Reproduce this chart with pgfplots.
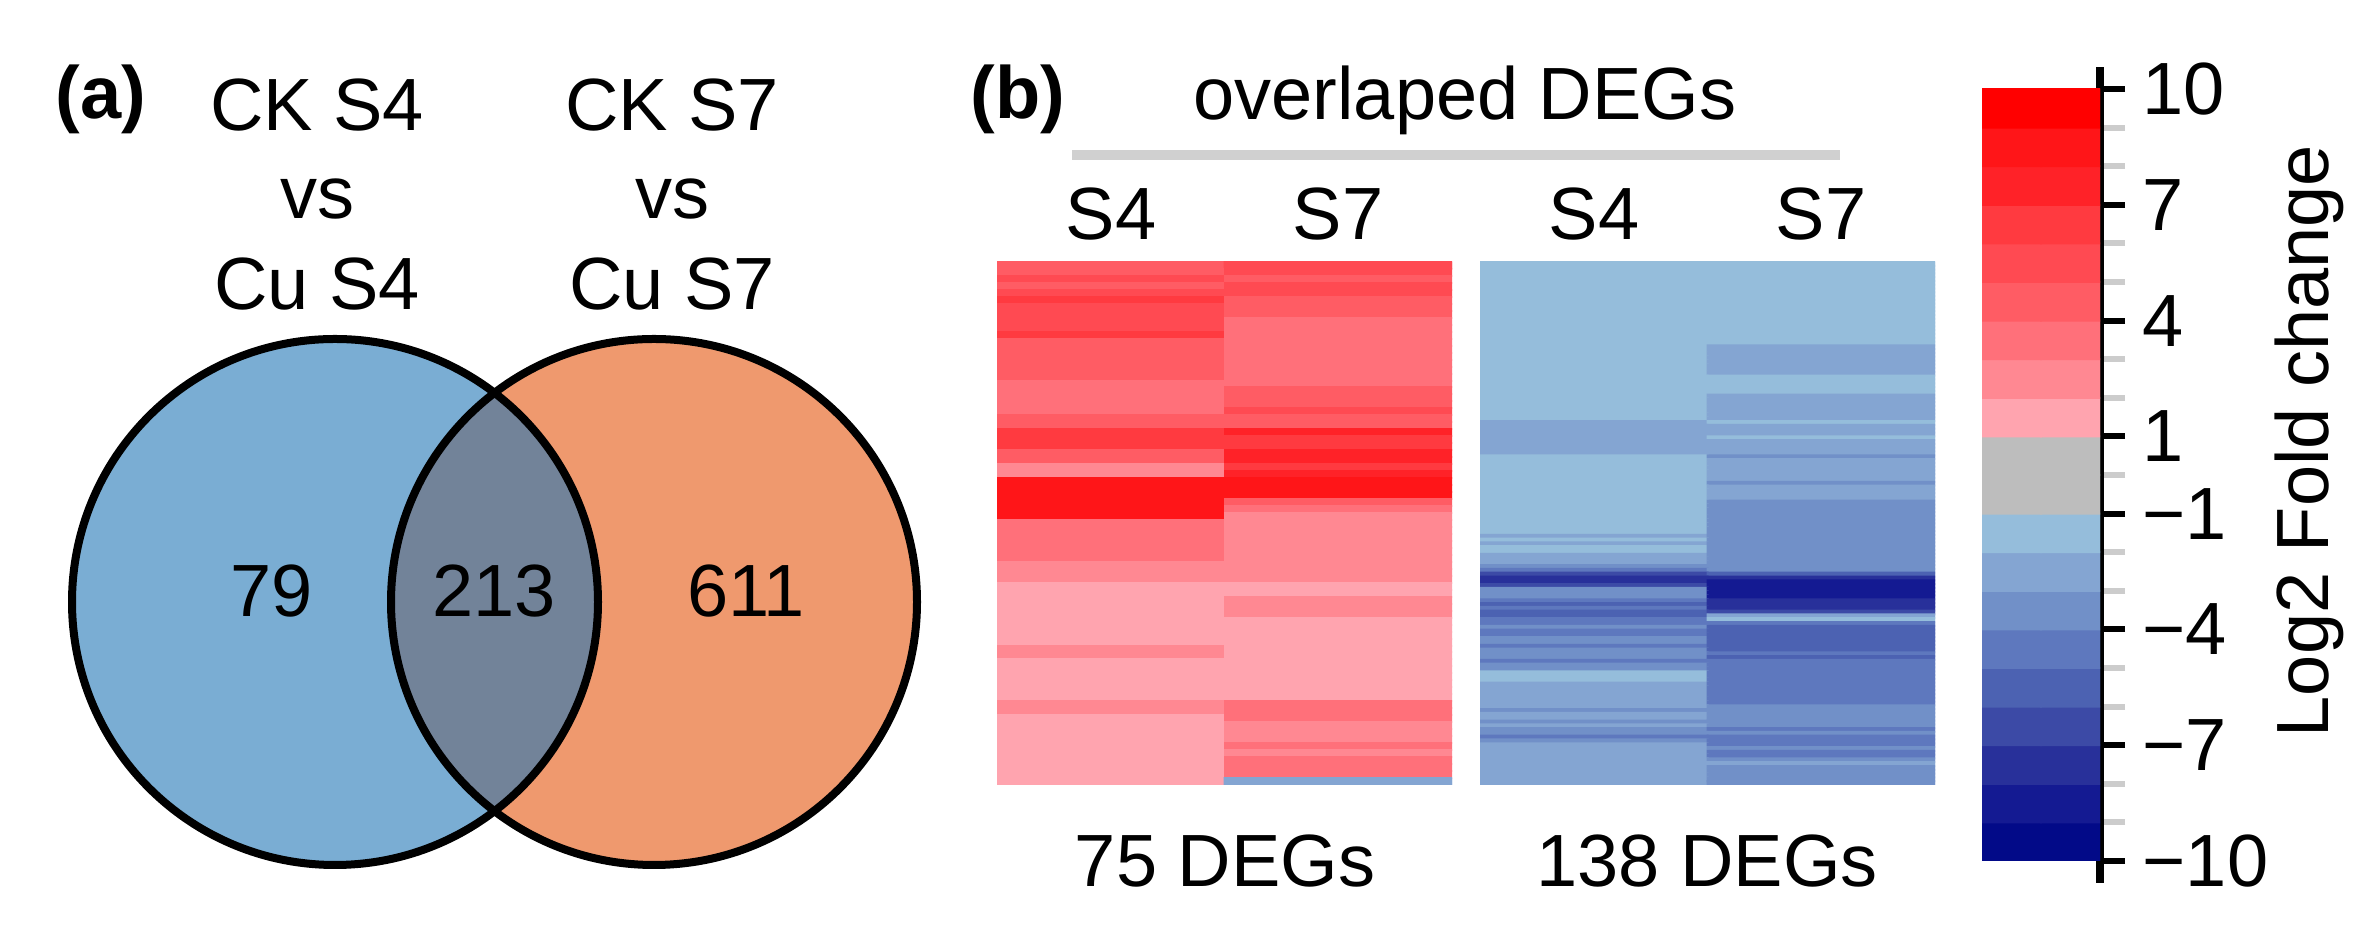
\documentclass[border=0pt]{standalone}
\usepackage{fontspec}
\setmainfont{Liberation Sans}
\usepackage{pgfplots}
\usepackage{pgfplotstable}
\pgfplotsset{compat=1.18}

\newcommand{\fs}{\fontsize{14.8}{17.8}\selectfont}

\definecolor{vennblue}{RGB}{122,173,211}
\definecolor{vennorange}{RGB}{239,153,110}
\definecolor{vennboth}{RGB}{114,131,153}
\definecolor{rulegray}{RGB}{208,208,208}

% 20 bands of 1 unit from -10 to 10, grey for -1..1
\pgfplotsset{
  colormap={lfc}{
    rgb255=(2,10,136) rgb255=(20,26,146) rgb255=(40,48,154) rgb255=(60,74,166)
    rgb255=(76,98,178) rgb255=(94,120,190) rgb255=(113,144,200) rgb255=(132,165,210)
    rgb255=(149,189,219) rgb255=(189,189,189) rgb255=(189,189,189) rgb255=(255,164,175)
    rgb255=(255,136,146) rgb255=(255,112,122) rgb255=(255,92,100) rgb255=(255,74,82)
    rgb255=(255,58,64) rgb255=(255,34,40) rgb255=(255,21,24) rgb255=(255,0,0)
  },
}

% log2 fold change; x: 0 = S4, 1 = S7; y: gene
\pgfplotstableread[row sep=\\,col sep=&]{
x&y&fc\\
0&0&4.5\\ 1&0&5.5\\
0&1&4.5\\ 1&1&5.5\\
0&2&5.5\\ 1&2&4.5\\
0&3&4.5\\ 1&3&5.5\\
0&4&5.5\\ 1&4&5.5\\
0&5&6.5\\ 1&5&4.5\\
0&6&5.5\\ 1&6&4.5\\
0&7&5.5\\ 1&7&4.5\\
0&8&5.5\\ 1&8&3.5\\
0&9&5.5\\ 1&9&3.5\\
0&10&6.5\\ 1&10&3.5\\
0&11&4.5\\ 1&11&3.5\\
0&12&4.5\\ 1&12&3.5\\
0&13&4.5\\ 1&13&3.5\\
0&14&4.5\\ 1&14&3.5\\
0&15&4.5\\ 1&15&3.5\\
0&16&4.5\\ 1&16&3.5\\
0&17&3.5\\ 1&17&3.5\\
0&18&3.5\\ 1&18&4.5\\
0&19&3.5\\ 1&19&4.5\\
0&20&3.5\\ 1&20&4.5\\
0&21&3.5\\ 1&21&5.5\\
0&22&4.5\\ 1&22&4.5\\
0&23&4.5\\ 1&23&4.5\\
0&24&6.5\\ 1&24&7.5\\
0&25&6.5\\ 1&25&6.5\\
0&26&6.5\\ 1&26&6.5\\
0&27&4.5\\ 1&27&7.5\\
0&28&4.5\\ 1&28&7.5\\
0&29&2.5\\ 1&29&6.5\\
0&30&2.5\\ 1&30&7.5\\
0&31&8.5\\ 1&31&8.5\\
0&32&8.5\\ 1&32&8.5\\
0&33&8.5\\ 1&33&8.5\\
0&34&8.5\\ 1&34&4.5\\
0&35&8.5\\ 1&35&3.5\\
0&36&8.5\\ 1&36&2.5\\
0&37&3.5\\ 1&37&2.5\\
0&38&3.5\\ 1&38&2.5\\
0&39&3.5\\ 1&39&2.5\\
0&40&3.5\\ 1&40&2.5\\
0&41&3.5\\ 1&41&2.5\\
0&42&3.5\\ 1&42&2.5\\
0&43&2.5\\ 1&43&2.5\\
0&44&2.5\\ 1&44&2.5\\
0&45&2.5\\ 1&45&2.5\\
0&46&1.5\\ 1&46&1.5\\
0&47&1.5\\ 1&47&1.5\\
0&48&1.5\\ 1&48&2.5\\
0&49&1.5\\ 1&49&2.5\\
0&50&1.5\\ 1&50&2.5\\
0&51&1.5\\ 1&51&1.5\\
0&52&1.5\\ 1&52&1.5\\
0&53&1.5\\ 1&53&1.5\\
0&54&1.5\\ 1&54&1.5\\
0&55&2.5\\ 1&55&1.5\\
0&56&2.5\\ 1&56&1.5\\
0&57&1.5\\ 1&57&1.5\\
0&58&1.5\\ 1&58&1.5\\
0&59&1.5\\ 1&59&1.5\\
0&60&1.5\\ 1&60&1.5\\
0&61&1.5\\ 1&61&1.5\\
0&62&1.5\\ 1&62&1.5\\
0&63&2.5\\ 1&63&3.5\\
0&64&2.5\\ 1&64&3.5\\
0&65&1.5\\ 1&65&3.5\\
0&66&1.5\\ 1&66&2.5\\
0&67&1.5\\ 1&67&2.5\\
0&68&1.5\\ 1&68&2.5\\
0&69&1.5\\ 1&69&3.5\\
0&70&1.5\\ 1&70&2.5\\
0&71&1.5\\ 1&71&3.5\\
0&72&1.5\\ 1&72&3.5\\
0&73&1.5\\ 1&73&3.5\\
0&74&1.5\\ 1&74&-2.5\\
}\upfc

\pgfplotstableread[row sep=\\,col sep=&]{
x&y&fc\\
0&0&-1.5\\ 1&0&-1.5\\
0&1&-1.5\\ 1&1&-1.5\\
0&2&-1.5\\ 1&2&-1.5\\
0&3&-1.5\\ 1&3&-1.5\\
0&4&-1.5\\ 1&4&-1.5\\
0&5&-1.5\\ 1&5&-1.5\\
0&6&-1.5\\ 1&6&-1.5\\
0&7&-1.5\\ 1&7&-1.5\\
0&8&-1.5\\ 1&8&-1.5\\
0&9&-1.5\\ 1&9&-1.5\\
0&10&-1.5\\ 1&10&-1.5\\
0&11&-1.5\\ 1&11&-1.5\\
0&12&-1.5\\ 1&12&-1.5\\
0&13&-1.5\\ 1&13&-1.5\\
0&14&-1.5\\ 1&14&-1.5\\
0&15&-1.5\\ 1&15&-1.5\\
0&16&-1.5\\ 1&16&-1.5\\
0&17&-1.5\\ 1&17&-1.5\\
0&18&-1.5\\ 1&18&-1.5\\
0&19&-1.5\\ 1&19&-1.5\\
0&20&-1.5\\ 1&20&-1.5\\
0&21&-1.5\\ 1&21&-1.5\\
0&22&-1.5\\ 1&22&-2.5\\
0&23&-1.5\\ 1&23&-2.5\\
0&24&-1.5\\ 1&24&-2.5\\
0&25&-1.5\\ 1&25&-2.5\\
0&26&-1.5\\ 1&26&-2.5\\
0&27&-1.5\\ 1&27&-2.5\\
0&28&-1.5\\ 1&28&-2.5\\
0&29&-1.5\\ 1&29&-2.5\\
0&30&-1.5\\ 1&30&-1.5\\
0&31&-1.5\\ 1&31&-1.5\\
0&32&-1.5\\ 1&32&-1.5\\
0&33&-1.5\\ 1&33&-1.5\\
0&34&-1.5\\ 1&34&-1.5\\
0&35&-1.5\\ 1&35&-2.5\\
0&36&-1.5\\ 1&36&-2.5\\
0&37&-1.5\\ 1&37&-2.5\\
0&38&-1.5\\ 1&38&-2.5\\
0&39&-1.5\\ 1&39&-2.5\\
0&40&-1.5\\ 1&40&-2.5\\
0&41&-1.5\\ 1&41&-2.5\\
0&42&-2.5\\ 1&42&-1.5\\
0&43&-2.5\\ 1&43&-2.5\\
0&44&-2.5\\ 1&44&-2.5\\
0&45&-2.5\\ 1&45&-2.5\\
0&46&-2.5\\ 1&46&-1.5\\
0&47&-2.5\\ 1&47&-2.5\\
0&48&-2.5\\ 1&48&-2.5\\
0&49&-2.5\\ 1&49&-2.5\\
0&50&-2.5\\ 1&50&-2.5\\
0&51&-1.5\\ 1&51&-3.5\\
0&52&-1.5\\ 1&52&-2.5\\
0&53&-1.5\\ 1&53&-2.5\\
0&54&-1.5\\ 1&54&-2.5\\
0&55&-1.5\\ 1&55&-2.5\\
0&56&-1.5\\ 1&56&-2.5\\
0&57&-1.5\\ 1&57&-2.5\\
0&58&-1.5\\ 1&58&-3.5\\
0&59&-1.5\\ 1&59&-2.5\\
0&60&-1.5\\ 1&60&-2.5\\
0&61&-1.5\\ 1&61&-2.5\\
0&62&-1.5\\ 1&62&-2.5\\
0&63&-1.5\\ 1&63&-3.5\\
0&64&-1.5\\ 1&64&-3.5\\
0&65&-1.5\\ 1&65&-3.5\\
0&66&-1.5\\ 1&66&-3.5\\
0&67&-1.5\\ 1&67&-3.5\\
0&68&-1.5\\ 1&68&-3.5\\
0&69&-1.5\\ 1&69&-3.5\\
0&70&-1.5\\ 1&70&-3.5\\
0&71&-1.5\\ 1&71&-3.5\\
0&72&-2.5\\ 1&72&-3.5\\
0&73&-1.5\\ 1&73&-3.5\\
0&74&-2.5\\ 1&74&-3.5\\
0&75&-1.5\\ 1&75&-3.5\\
0&76&-1.5\\ 1&76&-3.5\\
0&77&-2.5\\ 1&77&-3.5\\
0&78&-2.5\\ 1&78&-3.5\\
0&79&-2.5\\ 1&79&-3.5\\
0&80&-3.5\\ 1&80&-3.5\\
0&81&-4.5\\ 1&81&-3.5\\
0&82&-6.5\\ 1&82&-5.5\\
0&83&-7.5\\ 1&83&-7.5\\
0&84&-7.5\\ 1&84&-8.5\\
0&85&-6.5\\ 1&85&-8.5\\
0&86&-3.5\\ 1&86&-8.5\\
0&87&-3.5\\ 1&87&-8.5\\
0&88&-3.5\\ 1&88&-8.5\\
0&89&-4.5\\ 1&89&-7.5\\
0&90&-5.5\\ 1&90&-7.5\\
0&91&-4.5\\ 1&91&-7.5\\
0&92&-5.5\\ 1&92&-6.5\\
0&93&-5.5\\ 1&93&-2.5\\
0&94&-4.5\\ 1&94&-1.5\\
0&95&-4.5\\ 1&95&-4.5\\
0&96&-3.5\\ 1&96&-5.5\\
0&97&-4.5\\ 1&97&-5.5\\
0&98&-4.5\\ 1&98&-5.5\\
0&99&-3.5\\ 1&99&-5.5\\
0&100&-3.5\\ 1&100&-5.5\\
0&101&-4.5\\ 1&101&-5.5\\
0&102&-3.5\\ 1&102&-5.5\\
0&103&-3.5\\ 1&103&-4.5\\
0&104&-3.5\\ 1&104&-5.5\\
0&105&-4.5\\ 1&105&-4.5\\
0&106&-3.5\\ 1&106&-4.5\\
0&107&-3.5\\ 1&107&-4.5\\
0&108&-1.5\\ 1&108&-4.5\\
0&109&-1.5\\ 1&109&-4.5\\
0&110&-1.5\\ 1&110&-4.5\\
0&111&-2.5\\ 1&111&-4.5\\
0&112&-2.5\\ 1&112&-4.5\\
0&113&-2.5\\ 1&113&-4.5\\
0&114&-2.5\\ 1&114&-4.5\\
0&115&-2.5\\ 1&115&-4.5\\
0&116&-2.5\\ 1&116&-4.5\\
0&117&-2.5\\ 1&117&-3.5\\
0&118&-3.5\\ 1&118&-3.5\\
0&119&-2.5\\ 1&119&-3.5\\
0&120&-2.5\\ 1&120&-3.5\\
0&121&-3.5\\ 1&121&-3.5\\
0&122&-2.5\\ 1&122&-3.5\\
0&123&-3.5\\ 1&123&-4.5\\
0&124&-3.5\\ 1&124&-3.5\\
0&125&-4.5\\ 1&125&-4.5\\
0&126&-3.5\\ 1&126&-4.5\\
0&127&-2.5\\ 1&127&-4.5\\
0&128&-2.5\\ 1&128&-3.5\\
0&129&-2.5\\ 1&129&-4.5\\
0&130&-2.5\\ 1&130&-4.5\\
0&131&-2.5\\ 1&131&-3.5\\
0&132&-2.5\\ 1&132&-2.5\\
0&133&-2.5\\ 1&133&-3.5\\
0&134&-2.5\\ 1&134&-3.5\\
0&135&-2.5\\ 1&135&-3.5\\
0&136&-2.5\\ 1&136&-3.5\\
0&137&-2.5\\ 1&137&-3.5\\
}\downfc

% colour key: column, band centre, level
\pgfplotstableread{
x y fc
0 -9.5 -9.5
1 -9.5 -9.5
0 -8.5 -8.5
1 -8.5 -8.5
0 -7.5 -7.5
1 -7.5 -7.5
0 -6.5 -6.5
1 -6.5 -6.5
0 -5.5 -5.5
1 -5.5 -5.5
0 -4.5 -4.5
1 -4.5 -4.5
0 -3.5 -3.5
1 -3.5 -3.5
0 -2.5 -2.5
1 -2.5 -2.5
0 -1.5 -1.5
1 -1.5 -1.5
0 -0.5 -0.5
1 -0.5 -0.5
0 0.5 0.5
1 0.5 0.5
0 1.5 1.5
1 1.5 1.5
0 2.5 2.5
1 2.5 2.5
0 3.5 3.5
1 3.5 3.5
0 4.5 4.5
1 4.5 4.5
0 5.5 5.5
1 5.5 5.5
0 6.5 6.5
1 6.5 6.5
0 7.5 7.5
1 7.5 7.5
0 8.5 8.5
1 8.5 8.5
0 9.5 9.5
1 9.5 9.5
}\keyfc

\begin{document}
\begin{tikzpicture}[font=\fs]
\useasboundingbox (0,0) rectangle (474.8pt,186.4pt);

% frame in pixel units of the figure (0.2pt per px, y downwards)
\begin{axis}[
    at={(0pt,0pt)}, anchor=south west,
    scale only axis, width=474.8pt, height=186.4pt,
    xmin=0, xmax=2374, ymin=0, ymax=932, y dir=reverse,
    hide axis, clip=false,
  ]
  \fill[vennblue] (axis cs:335,602) circle[radius=52.6pt];
  \fill[vennorange] (axis cs:654,602) circle[radius=52.6pt];
  \begin{scope}
    \clip (axis cs:335,602) circle[radius=52.6pt];
    \fill[vennboth] (axis cs:654,602) circle[radius=52.6pt];
  \end{scope}
  \draw[line width=1.6pt] (axis cs:335,602) circle[radius=52.6pt];
  \draw[line width=1.6pt] (axis cs:654,602) circle[radius=52.6pt];

  \addplot[draw=none, mark=none, nodes near coords, point meta=explicit symbolic,
    every node near coord/.append style={anchor=center, font=\fs}]
    coordinates {(272,591) [79] (494,591) [213] (746,591) [611]};

  \node[anchor=base west, font=\fs\bfseries] at (axis cs:38,119) {(a)};
  \node[anchor=base] at (axis cs:317,131) {CK S4};
  \node[anchor=base] at (axis cs:317,219) {vs};
  \node[anchor=base] at (axis cs:317,310) {Cu S4};
  \node[anchor=base] at (axis cs:672,131) {CK S7};
  \node[anchor=base] at (axis cs:672,219) {vs};
  \node[anchor=base] at (axis cs:672,310) {Cu S7};

  \node[anchor=base west, font=\fs\bfseries] at (axis cs:953,119) {(b)};
  \node[anchor=base] at (axis cs:1465,120) {overlaped DEGs};
  \draw[rulegray, line width=2pt] (axis cs:1072,155) -- (axis cs:1840,155);
  \node[anchor=base] at (axis cs:1111,240) {S4};
  \node[anchor=base] at (axis cs:1338,240) {S7};
  \node[anchor=base] at (axis cs:1594,240) {S4};
  \node[anchor=base] at (axis cs:1821,240) {S7};
  \node[anchor=base] at (axis cs:1225,887) {75 DEGs};
  \node[anchor=base] at (axis cs:1707,887) {138 DEGs};
  \node[anchor=base, rotate=90] at (axis cs:2328,441) {Log2 Fold change};
\end{axis}

% up-regulated overlap (75 genes)
\begin{axis}[
    at={(199.4pt,29.4pt)}, anchor=south west,
    scale only axis, width=91pt, height=104.6pt,
    xmin=-0.5, xmax=1.5, ymin=-0.5, ymax=74.5, y dir=reverse,
    hide axis, colormap name=lfc, colormap access=direct,
  ]
  \addplot[matrix plot*, mesh/cols=2, point meta={floor(\thisrow{fc})+10}]
    table[x=x, y=y] {\upfc};
\end{axis}

% down-regulated overlap (138 genes)
\begin{axis}[
    at={(296pt,29.4pt)}, anchor=south west,
    scale only axis, width=91pt, height=104.6pt,
    xmin=-0.5, xmax=1.5, ymin=-0.5, ymax=137.5, y dir=reverse,
    hide axis, colormap name=lfc, colormap access=direct,
  ]
  \addplot[matrix plot*, mesh/cols=2, point meta={floor(\thisrow{fc})+10}]
    table[x=x, y=y] {\downfc};
\end{axis}

% colour key
\begin{axis}[
    at={(396.4pt,14.2pt)}, anchor=south west,
    scale only axis, width=23.6pt, height=154.4pt,
    xmin=-0.5, xmax=1.5, ymin=-10, ymax=10,
    axis x line=none, axis y line*=right,
    y axis line style={line width=1.6pt, shorten <=-4.4pt, shorten >=-4.4pt},
    ytick={-10,-7,-4,-1,1,4,7,10},
    yticklabels={−10,−7,−4,−1,1,4,7,10},
    minor ytick={-9,-8,-6,-5,-3,-2,0,2,3,5,6,8,9},
    tick align=outside, major tick length=5pt, minor tick length=5pt,
    major tick style={black, line width=1.2pt},
    minor tick style={black!20, line width=1.2pt},
    yticklabel style={font=\fs, anchor=west},
    colormap name=lfc, colormap access=direct,
  ]
  \addplot[matrix plot*, mesh/cols=2, point meta={floor(\thisrow{fc})+10}]
    table[x=x, y=y] {\keyfc};
\end{axis}
\end{tikzpicture}
\end{document}
